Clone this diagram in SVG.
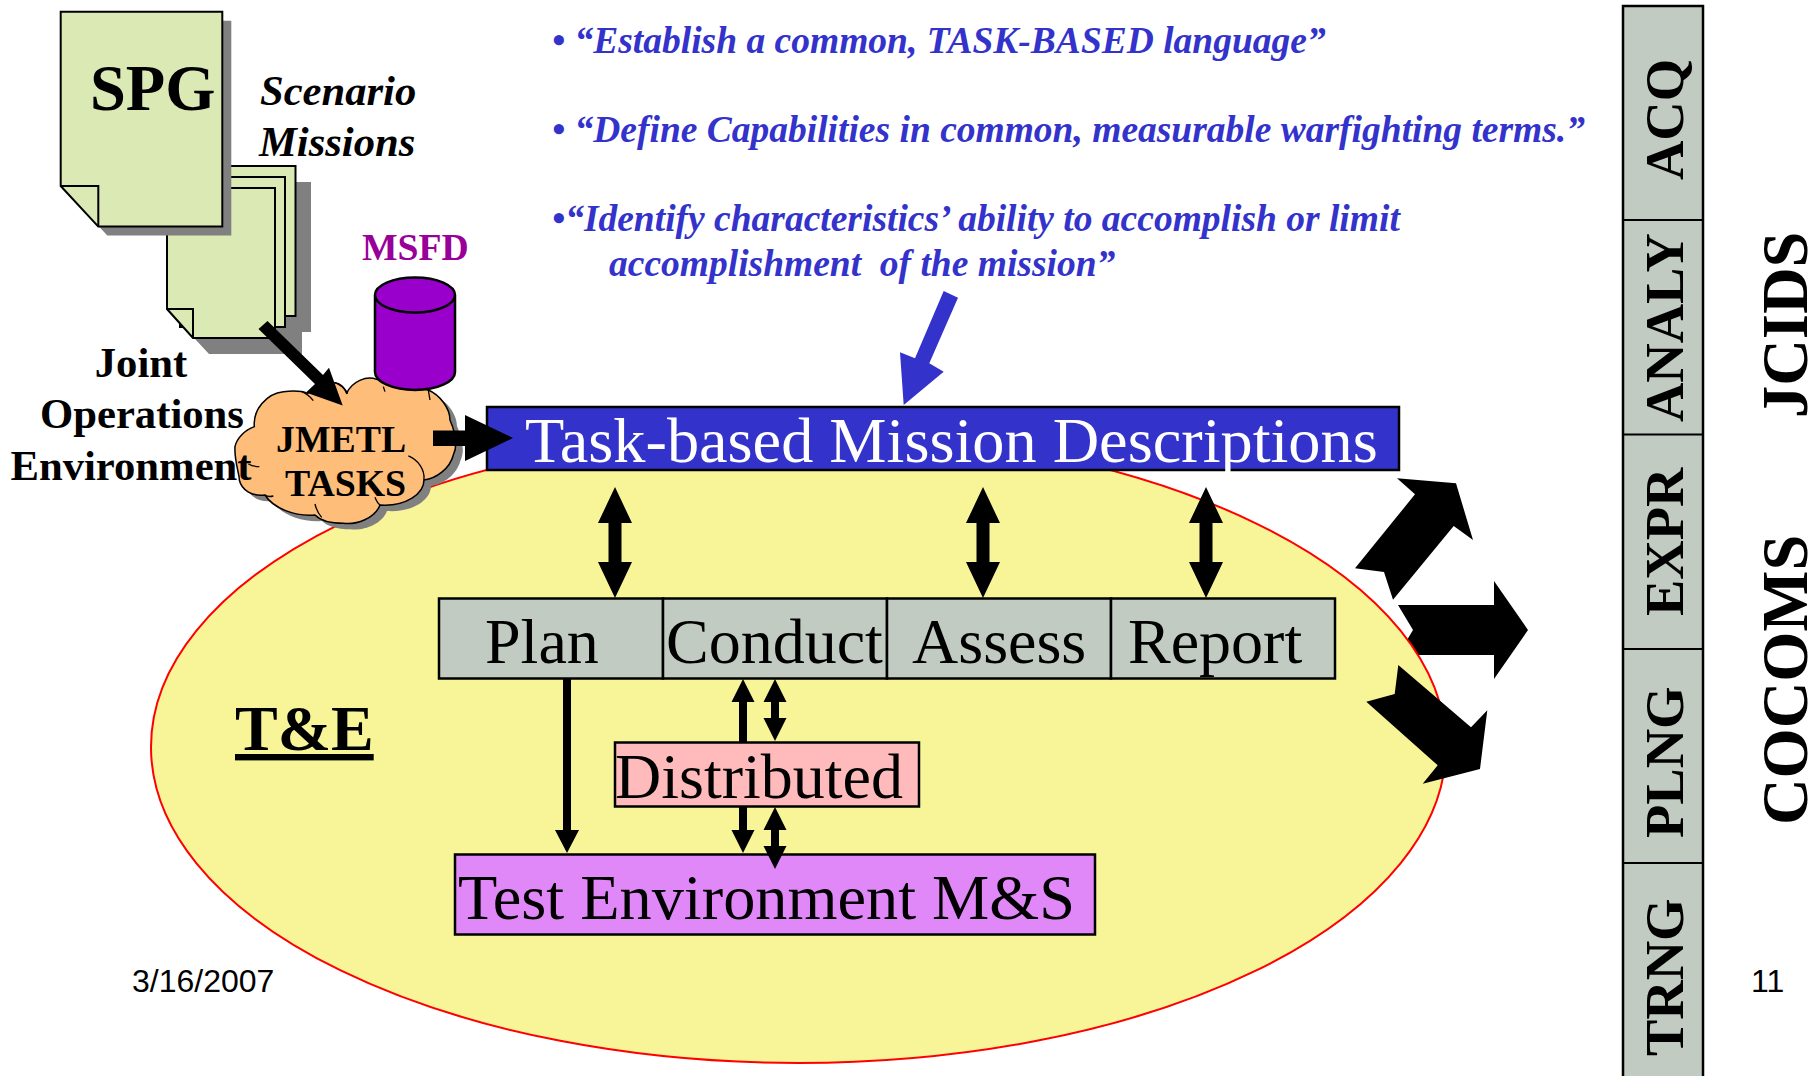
<svg xmlns="http://www.w3.org/2000/svg" width="1817" height="1076" viewBox="0 0 1817 1076">
<style>
text{font-family:"Liberation Serif","Times New Roman",serif;fill:#000}
.b{font-weight:bold}
.q{font-weight:bold;font-style:italic;fill:#3333cc;font-size:37.500px}
.s{font-size:64px}
.w{font-size:64.300px}
.j{font-weight:bold;font-size:42.700px;text-anchor:middle}
.sm{font-weight:bold;font-style:italic;font-size:42.600px}
.ct{font-weight:bold;font-size:37.800px}
.sf{font-family:"Liberation Sans",Arial,sans-serif;font-size:32px}
.page{fill:#dbe9b5;stroke:#000;stroke-width:2}
.shadow{fill:#808080}
.box{stroke:#000;stroke-width:2.500}
.k{fill:#000}
.line{fill:none;stroke:#000;stroke-width:2}
.col{fill:#c1cbc2}
.rot{font-weight:bold;font-size:54.500px}
.rot2{font-weight:bold;font-size:64.500px}
.cloud{fill:#ffbd7a;stroke:#000;stroke-width:4.500;stroke-linejoin:round}
.tick{fill:none;stroke:#000;stroke-width:4}
</style>
<defs>
<path id="cloudShape" d="M103,200 C98,150 140,100 190,95 C220,92 245,92 262,100 L345,68 C360,68 375,85 380,100 C395,65 440,45 470,58 L625,90 C660,105 690,145 690,180 C705,215 715,255 700,285 C690,325 650,355 612,360 C612,400 560,440 480,435 C465,475 410,495 370,490 C330,490 300,480 285,465 C225,470 160,445 135,405 C95,410 65,390 58,360 C60,350 42,300 45,260 C50,235 75,210 103,200 Z"/>
</defs>
<g id="right-arrow"><polygon class="k" points="1398,605 1494,605 1494,581 1528,630 1494,679 1494,655 1398,655 1413,630"/></g>
<g id="te-ellipse"><ellipse cx="798.500" cy="747" rx="647.500" ry="316" fill="#f7f598" stroke="#ff0000" stroke-width="2"/>
<text class="b s" x="235" y="750" text-decoration="underline">T&amp;E</text></g>
<g id="spg-stack">
<path class="shadow" d="M182,182 H311 V332 H302 V354 H209 L182,325 Z"/>
<rect class="page" x="190" y="166" width="105.500" height="150"/>
<rect class="page" x="180" y="177" width="105" height="150"/>
<path class="page" d="M167,188 H275 V338 H193 L167,309 Z"/><path class="line" d="M167,309 H193 V338"/>
</g>
<g id="spg">
<path class="shadow" d="M69.700,20.700 H231.300 V235.600 H107.300 L69.700,195 Z"/>
<path class="page" d="M60.700,11.700 H222.300 V226.600 H98.300 L60.700,186 Z"/><path class="line" d="M60.700,186 H98.300 V226.600"/>
<text class="b" x="90" y="109.500" font-size="64.500">SPG</text>
</g>
<g id="scenario-missions">
<text class="sm" x="260" y="105">Scenario</text>
<text class="sm" x="259" y="155.500">Missions</text>
</g>
<g id="jmetl-cloud">
<g transform="translate(227,366) scale(.3333)"><use href="#cloudShape" class="shadow"/></g>
<g transform="translate(220,360) scale(.3333)"><use href="#cloudShape" class="cloud"/>
<path class="tick" d="M245,95 Q265,103 280,122"/><path class="tick" d="M345,68 Q375,80 382,102"/><path class="tick" d="M565,288 C595,300 615,330 612,360"/><path class="tick" d="M480,435 Q472,430 465,412"/><path class="tick" d="M285,432 Q290,455 305,472"/><path class="tick" d="M135,405 Q145,412 160,408"/><path class="tick" d="M85,312 Q100,320 118,320"/><path class="tick" d="M490,80 L495,95"/><path class="tick" d="M625,90 L630,120"/></g>
<text class="ct" x="276" y="452">JMETL</text>
<text class="ct" x="285" y="496">TASKS</text>
</g>
<g id="joint-env">
<text class="j" x="141" y="377">Joint</text>
<text class="j" x="142" y="428">Operations</text>
<text class="j" x="131" y="480">Environment</text>
</g>
<g id="msfd">
<text class="b" x="362" y="260" font-size="37.700" style="fill:#990099">MSFD</text>
<path d="M375,295 V372 A40,18 0 0 0 455,372 V295 A40,17.500 0 0 0 375,295 A40,17.500 0 0 0 455,295" fill="#9900cc" stroke="#000" stroke-width="2.500"/>
</g>
<g id="mission-box"><rect class="box" x="487" y="407" width="912" height="63" fill="#3333cc"/>
<text class="w" x="525" y="462" style="fill:#fff">Task-based Mission Descriptions</text></g>
<g id="quotes">
<text class="q" x="552" y="53">• “Establish a common, TASK-BASED language”</text>
<text class="q" x="552" y="142">• “Define Capabilities in common, measurable warfighting terms.”</text>
<text class="q" x="552" y="231">•“Identify characteristics’ ability to accomplish or limit</text>
<text class="q" x="609" y="276" xml:space="preserve">accomplishment  of the mission”</text>
</g>
<g id="phases">
<rect class="box" x="439" y="598.500" width="224" height="80" fill="#c1cbc2"/>
<rect class="box" x="663" y="598.500" width="224" height="80" fill="#c1cbc2"/>
<rect class="box" x="887" y="598.500" width="224" height="80" fill="#c1cbc2"/>
<rect class="box" x="1111" y="598.500" width="224" height="80" fill="#c1cbc2"/>
<text class="s" x="485" y="663">Plan</text>
<text class="s" x="666" y="663">Conduct</text>
<text class="s" x="912" y="663">Assess</text>
<text class="s" x="1128" y="663">Report</text>
</g>
<g id="distributed"><rect class="box" x="615" y="742.500" width="304" height="64" fill="#ffbbbb"/>
<text class="s" x="615" y="798">Distributed</text></g>
<g id="test-env"><rect class="box" x="455" y="854.500" width="640" height="80" fill="#e088f8"/>
<text class="w" x="458" y="919">Test Environment M&amp;S</text></g>
<g id="connectors">
<polygon class="k" points="258.500,329 267.500,321 323,375 329,367.800 342.700,405.600 306,392.600 315,384"/>
<polygon class="k" points="433,430.500 465,430.500 465,415 513,438 465,461 465,446 433,446"/>
<polygon points="943.700,291 958,297.700 929.300,363.300 943.700,371.700 903.700,405 900,352.300 915,358.300" fill="#3333cc"/>
<polygon class="k" points="615,487 632,523 621.500,523 621.500,562 632,562 615,598 598,562 608.500,562 608.500,523 598,523"/>
<polygon class="k" points="983,487 1000,523 989.500,523 989.500,562 1000,562 983,598 966,562 976.500,562 976.500,523 966,523"/>
<polygon class="k" points="1206,487 1223,523 1212.500,523 1212.500,562 1223,562 1206,598 1189,562 1199.500,562 1199.500,523 1189,523"/>
<polygon class="k" points="563,678 571,678 571,830 579,830 567,853 555,830 563,830"/>
<polygon class="k" points="743,679 754.500,702 747,702 747,742 739,742 739,702 731.500,702"/>
<polygon class="k" points="775,679 786.500,702 779,702 779,718 786.500,718 775,741 763.500,718 771,718 771,702 763.500,702"/>
<polygon class="k" points="739,806 747,806 747,830 754.500,830 743,853 731.500,830 739,830"/>
<polygon class="k" points="775,807 786.500,830 779,830 779,846 786.500,846 775,869 763.500,846 771,846 771,830 763.500,830"/>
<polygon class="k" points="1355,568.300 1384,572 1393,599.700 1453.700,526 1473,540 1456,483.300 1397,478.300 1415,494.300"/>
<polygon class="k" points="1398.300,665 1471,727.300 1487.300,710.300 1480,769 1422.700,783.700 1437.700,765.300 1366.300,701.700 1394.700,694"/>
</g>
<g id="footer">
<text class="sf" x="132" y="992">3/16/2007</text>
<text class="sf" x="1751" y="992">11</text>
</g>
<g id="column">
<rect class="col" x="1623" y="6" width="80" height="1080" stroke="#000" stroke-width="2.500"/>
<path class="line" d="M1623,220 H1703 M1623,434.500 H1703 M1623,649 H1703 M1623,863 H1703"/>
<text class="rot" transform="translate(1683,180) rotate(-90)">ACQ</text>
<text class="rot" transform="translate(1683,422) rotate(-90)">ANALY</text>
<text class="rot" transform="translate(1683,616) rotate(-90)">EXPR</text>
<text class="rot" transform="translate(1683,838) rotate(-90)">PLNG</text>
<text class="rot" transform="translate(1683,1056) rotate(-90)">TRNG</text>
</g>
<g id="side-labels">
<text class="rot2" transform="translate(1807,418) rotate(-90)">JCIDS</text>
<text class="rot2" transform="translate(1807,825) rotate(-90)">COCOMS</text>
</g>
</svg>
